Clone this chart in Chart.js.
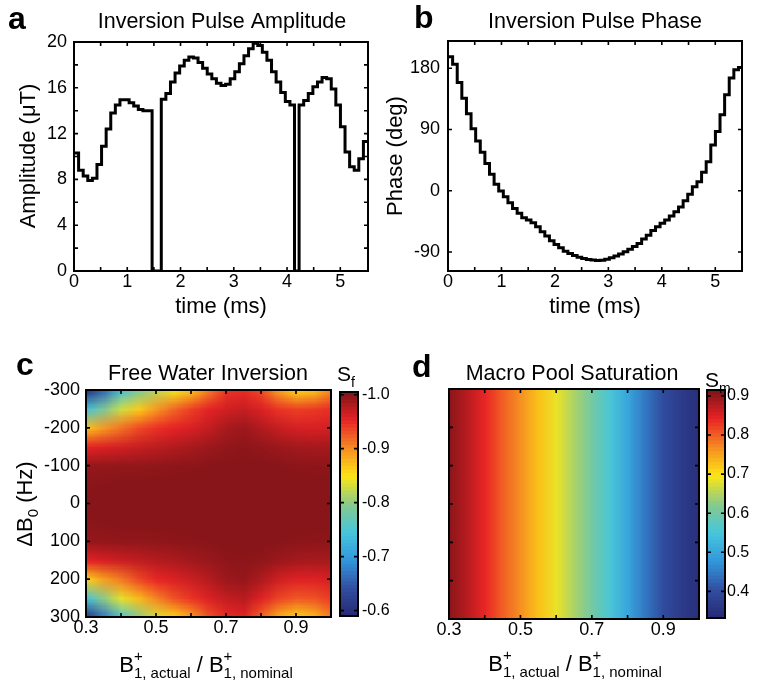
<!DOCTYPE html>
<html>
<head>
<meta charset="utf-8">
<title>Inversion pulse</title>
<script src="https://cdn.jsdelivr.net/npm/chart.js@4.4.0/dist/chart.umd.min.js"></script>
<style>
  body { margin: 0; background: #fff; }
  #fig { position: relative; width: 757px; height: 683px; background: #fff; }
  #fig canvas { position: absolute; left: 0; top: 0; }
</style>
</head>
<body>
<div id="fig">
  <canvas id="amp" width="757" height="683"></canvas>
  <canvas id="phase" width="757" height="683"></canvas>
  <canvas id="water" width="757" height="683"></canvas>
  <canvas id="waterBar" width="757" height="683"></canvas>
  <canvas id="macro" width="757" height="683"></canvas>
  <canvas id="macroBar" width="757" height="683"></canvas>
</div>
<script>
// ---- pulse samples (64 steps) ----
const pulseDuration = 5.52; // ms
const amplitude = [
  10.3, 8.8, 8.3, 7.9, 8.1, 9.3, 10.9, 12.4, 13.8, 14.5, 14.95, 14.95, 14.7, 14.4, 14.1, 14.0,
  14.0, 0, 0, 15.0, 15.5, 16.5, 17.3, 17.9, 18.4, 18.7, 18.6, 18.2, 17.7, 17.2, 16.8, 16.4,
  16.2, 16.3, 16.8, 17.4, 18.1, 18.8, 19.4, 19.9, 19.7, 19.1, 18.4, 17.4, 16.5, 15.6, 14.8, 14.5,
  0, 14.5, 14.9, 15.5, 16.1, 16.5, 16.9, 16.8, 15.9, 14.5, 12.6, 10.4, 9.1, 8.8, 9.8, 11.3
];
const phase = [
  197, 186, 159, 136, 113, 91, 73, 56.5, 40, 24, 9.4, -0.4, -8.8, -17.7, -26, -33.3,
  -39.7, -43.2, -47.1, -53, -60.4, -66.7, -73.6, -79, -84, -88.8, -92.3, -95.2, -97.7, -99.7, -101.1, -102,
  -102.6, -102.3, -100.6, -98.6, -96, -93, -89.8, -86, -82, -77.5, -71, -65.3, -58.5, -53, -48, -43.2,
  -37, -31, -24, -14.7, -5.3, 5.9, 13, 27, 42.7, 67.3, 87, 111.5, 141, 165.6, 177.8, 181.2
];

// ---- simulation maps ----
const b1Ratio = [0.30, 0.35, 0.40, 0.45, 0.50, 0.55, 0.60, 0.65, 0.70, 0.75, 0.80, 0.85, 0.90, 0.95, 1.00];
const offResonance = [-300, -250, -200, -150, -100, -50, 0, 50, 100, 150, 200, 250, 300];
// free water longitudinal signal, one row per off-resonance value
const freeWater = [
  [-0.600, -0.660, -0.740, -0.790, -0.820, -0.845, -0.870, -0.910, -0.945, -0.950, -0.935, -0.890, -0.860, -0.870, -0.905],
  [-0.740, -0.790, -0.830, -0.865, -0.895, -0.920, -0.940, -0.955, -0.965, -0.970, -0.960, -0.945, -0.940, -0.943, -0.948],
  [-0.870, -0.895, -0.915, -0.935, -0.947, -0.955, -0.962, -0.972, -0.985, -0.990, -0.980, -0.970, -0.963, -0.962, -0.965],
  [-0.955, -0.960, -0.965, -0.970, -0.975, -0.980, -0.985, -0.990, -0.995, -0.997, -0.995, -0.990, -0.987, -0.986, -0.986],
  [-0.993, -0.994, -0.995, -0.995, -0.996, -0.997, -0.998, -0.999, -1.000, -1.000, -1.000, -0.999, -0.998, -0.997, -0.997],
  [-0.998, -0.999, -1.000, -1.000, -1.000, -1.000, -1.000, -1.000, -1.000, -1.000, -1.000, -1.000, -1.000, -1.000, -1.000],
  [-1.000, -1.000, -1.000, -1.000, -1.000, -1.000, -1.000, -1.000, -1.000, -1.000, -1.000, -1.000, -1.000, -1.000, -1.000],
  [-0.998, -0.999, -1.000, -1.000, -1.000, -1.000, -1.000, -1.000, -1.000, -1.000, -1.000, -1.000, -1.000, -1.000, -1.000],
  [-0.993, -0.994, -0.995, -0.995, -0.996, -0.997, -0.998, -0.999, -1.000, -1.000, -1.000, -0.999, -0.998, -0.997, -0.997],
  [-0.955, -0.962, -0.968, -0.973, -0.978, -0.982, -0.987, -0.992, -0.997, -0.998, -0.996, -0.990, -0.986, -0.985, -0.985],
  [-0.860, -0.890, -0.910, -0.935, -0.952, -0.960, -0.968, -0.978, -0.990, -0.993, -0.982, -0.965, -0.958, -0.958, -0.962],
  [-0.740, -0.800, -0.840, -0.875, -0.905, -0.930, -0.945, -0.960, -0.972, -0.977, -0.958, -0.937, -0.927, -0.930, -0.942],
  [-0.600, -0.670, -0.745, -0.800, -0.835, -0.860, -0.890, -0.930, -0.950, -0.955, -0.920, -0.880, -0.860, -0.875, -0.910]
];
// macromolecular saturation only depends on B1
const macroSat = [0.905, 0.875, 0.84, 0.80, 0.765, 0.725, 0.685, 0.645, 0.60, 0.555, 0.50, 0.445, 0.40, 0.37, 0.345];

// ---- tick values ----
const timeTicks = [0, 0.5, 1, 1.5, 2, 2.5, 3, 3.5, 4, 4.5, 5, 5.5];
const timeLabels = [0, 1, 2, 3, 4, 5];
const ampTicks = [0, 2, 4, 6, 8, 10, 12, 14, 16, 18, 20];
const ampLabels = [0, 4, 8, 12, 16, 20];
const phaseTicks = [-90, 0, 90, 180];
const b1Ticks = [0.3, 0.4, 0.5, 0.6, 0.7, 0.8, 0.9, 1.0];
const b1Labels = [0.3, 0.5, 0.7, 0.9];
const offTicks = [-300, -200, -100, 0, 100, 200, 300];
const waterBarTicks = [-1.0, -0.9, -0.8, -0.7, -0.6];
const macroBarTicks = [0.4, 0.5, 0.6, 0.7, 0.8, 0.9];

// colour scale limits (value at bottom of colour map, value at top)
const waterRange = [-0.59, -1.005];
const macroRange = [0.332, 0.915];

// jet-like colour stops
const cmapStops = [
  [38, 40, 115], [50, 78, 160], [50, 150, 220], [70, 198, 220], [135, 202, 140],
  [252, 230, 20], [246, 140, 35], [233, 35, 38], [125, 20, 24]
];

const W = 757, H = 683;
const FAMILY = "'Liberation Sans', Arial, Helvetica, sans-serif";
Chart.defaults.font.family = FAMILY;
Chart.defaults.color = '#000';

function cmap(f) {
  f = Math.min(1, Math.max(0, f)) * (cmapStops.length - 1);
  const i = Math.min(Math.floor(f), cmapStops.length - 2), t = f - i;
  return cmapStops[i].map((c, k) => Math.round(c + (cmapStops[i + 1][k] - c) * t));
}

// fixed plot boxes so the four panels line up
function place(area, yW, xH, yRight) {
  return {
    padding: {
      left: yRight ? area.left : area.left - yW,
      top: area.top,
      right: W - area.right - (yRight ? yW : 0),
      bottom: H - area.bottom - xH
    }
  };
}

function axis(min, max, ticks, labelled, fmt, opts) {
  opts = opts || {};
  return {
    type: 'linear', min, max,
    display: opts.display !== undefined ? opts.display : true,
    position: opts.position,
    reverse: !!opts.reverse,
    afterBuildTicks: s => { s.ticks = ticks.map(v => ({ value: v })); },
    afterFit: s => { if (s.isHorizontal()) s.height = 40; else s.width = opts.width || 60; },
    ticks: {
      autoSkip: false, maxRotation: 0, color: '#000',
      font: { size: opts.size || 18 }, padding: opts.padding || 0,
      callback: v => labelled.includes(v) ? fmt(v) : ''
    },
    grid: { display: false, drawTicks: false },
    border: { display: false }
  };
}

function stairs(values) {
  const dt = pulseDuration / values.length;
  const pts = values.map((v, i) => ({ x: i * dt, y: v }));
  pts.push({ x: values.length * dt, y: values[values.length - 1] });
  return pts;
}

// box with inward ticks on all four sides
const frame = {
  id: 'frame',
  afterDatasetsDraw(chart) {
    const { ctx, chartArea: a } = chart;
    const len = 4;
    ctx.save();
    ctx.strokeStyle = '#000';
    ctx.lineWidth = 1.6;
    ctx.beginPath();
    Object.values(chart.scales).forEach(s => {
      if (!s.options.display) return;
      s.ticks.forEach(t => {
        const p = s.getPixelForValue(t.value);
        if (s.isHorizontal()) {
          if (p < a.left + 2 || p > a.right - 2) return;
          ctx.moveTo(p, a.bottom); ctx.lineTo(p, a.bottom - len);
          ctx.moveTo(p, a.top); ctx.lineTo(p, a.top + len);
        } else {
          if (p < a.top + 2 || p > a.bottom - 2) return;
          ctx.moveTo(a.left, p); ctx.lineTo(a.left + len, p);
          ctx.moveTo(a.right, p); ctx.lineTo(a.right - len, p);
        }
      });
    });
    ctx.stroke();
    ctx.lineWidth = 2;
    ctx.strokeRect(a.left, a.top, a.right - a.left, a.bottom - a.top);
    ctx.restore();
  }
};

// smooth colour map drawn from the grid values
const heatmap = {
  id: 'heatmap',
  beforeDatasetsDraw(chart, args, o) {
    const { ctx, chartArea: a, scales: { x, y } } = chart;
    const cols = o.x.length, rows = o.y.length;
    const off = document.createElement('canvas');
    off.width = cols; off.height = rows;
    const octx = off.getContext('2d');
    const img = octx.createImageData(cols, rows);
    o.z.forEach((row, r) => row.forEach((v, c) => {
      const rgb = cmap((v - o.range[0]) / (o.range[1] - o.range[0]));
      const k = 4 * (r * cols + c);
      img.data[k] = rgb[0]; img.data[k + 1] = rgb[1]; img.data[k + 2] = rgb[2]; img.data[k + 3] = 255;
    }));
    octx.putImageData(img, 0, 0);
    const x0 = x.getPixelForValue(o.x[0]), x1 = x.getPixelForValue(o.x[cols - 1]);
    const y0 = y.getPixelForValue(o.y[0]), y1 = y.getPixelForValue(o.y[rows - 1]);
    const hx = (x1 - x0) / (cols - 1) / 2, hy = (y1 - y0) / (rows - 1) / 2;
    ctx.save();
    ctx.beginPath();
    ctx.rect(a.left, a.top, a.right - a.left, a.bottom - a.top);
    ctx.clip();
    ctx.imageSmoothingEnabled = true;
    ctx.drawImage(off, x0 - hx, y0 - hy, x1 - x0 + 2 * hx, y1 - y0 + 2 * hy);
    ctx.restore();
  }
};

// 64-level colour bar along the y scale
const colorbar = {
  id: 'colorbar',
  beforeDatasetsDraw(chart, args, o) {
    const { ctx, chartArea: a, scales: { y } } = chart;
    const n = 64, [lo, hi] = o.range;
    for (let k = 0; k < n; k++) {
      const p0 = y.getPixelForValue(lo + (hi - lo) * k / n);
      const p1 = y.getPixelForValue(lo + (hi - lo) * (k + 1) / n);
      const c = cmap((k + 0.5) / n);
      ctx.fillStyle = `rgb(${c[0]},${c[1]},${c[2]})`;
      ctx.fillRect(a.left, Math.min(p0, p1) - 0.5, a.right - a.left, Math.abs(p1 - p0) + 1);
    }
  }
};

// text with sub/superscripts
function drawRich(ctx, c) {
  const main = c.size, small = Math.round(c.size * 0.68);
  const font = sz => `${c.bold ? 'bold ' : ''}${sz}px ${FAMILY}`;
  const parts = c.segs.map(s => {
    if (typeof s === 'string') { ctx.font = font(main); return { s, w: ctx.measureText(s).width }; }
    ctx.font = font(small);
    return { s, w: Math.max(s.sub ? ctx.measureText(s.sub).width : 0, s.sup ? ctx.measureText(s.sup).width : 0) };
  });
  const total = parts.reduce((t, p) => t + p.w, 0);
  ctx.save();
  ctx.translate(c.x, c.y);
  if (c.rotate) ctx.rotate(-Math.PI / 2);
  ctx.fillStyle = '#000';
  ctx.textAlign = 'left';
  ctx.textBaseline = 'alphabetic';
  let x = c.align === 'left' ? 0 : -total / 2;
  parts.forEach(p => {
    if (typeof p.s === 'string') {
      ctx.font = font(main);
      ctx.fillText(p.s, x, 0);
    } else {
      ctx.font = font(small);
      if (p.s.sub) ctx.fillText(p.s.sub, x, main * 0.27);
      if (p.s.sup) ctx.fillText(p.s.sup, x, -main * 0.5);
    }
    x += p.w;
  });
  ctx.restore();
}

const captions = {
  id: 'captions',
  afterDraw(chart, args, o) {
    (o.items || []).forEach(c => drawRich(chart.ctx, c));
  }
};

const b1Label = ['B', { sub: '1, actual', sup: '+' }, ' / B', { sub: '1, nominal', sup: '+' }];
const fmt1 = v => v.toFixed(1);
const fmtInt = v => String(v);
const noLabel = () => '';

const base = { responsive: false, animation: false, events: [] };
const quiet = { legend: { display: false }, tooltip: { enabled: false } };

const areaA = { left: 74, top: 42, right: 368, bottom: 271 };
const areaB = { left: 448, top: 41, right: 742, bottom: 271 };
const areaC = { left: 86, top: 390, right: 331, bottom: 617 };
const areaD = { left: 449, top: 389, right: 699, bottom: 619 };
const areaCb = { left: 340, top: 392, right: 358, bottom: 616 };
const areaDb = { left: 707, top: 390, right: 725, bottom: 618 };

const pulseLine = {
  stepped: 'before', borderColor: '#000', borderWidth: 3, pointRadius: 0, fill: false,
  borderJoinStyle: 'miter', borderCapStyle: 'butt'
};

function opts(area, scales, items, extra) {
  return Object.assign({}, base, {
    layout: place(area, 60, 40),
    scales,
    plugins: Object.assign({}, quiet, { captions: { items } }, extra || {})
  });
}

// a: amplitude
new Chart(document.getElementById('amp'), {
  type: 'line',
  data: { datasets: [Object.assign({ data: stairs(amplitude) }, pulseLine)] },
  options: opts(areaA, {
    x: axis(0, pulseDuration, timeTicks, timeLabels, fmtInt),
    y: axis(0, 20, ampTicks, ampLabels, fmtInt, { padding: 7 })
  }, [
    { segs: ['a'], x: 8, y: 29, size: 32, bold: true, align: 'left' },
    { segs: ['Inversion Pulse Amplitude'], x: 222, y: 28, size: 21.5 },
    { segs: ['time (ms)'], x: 221, y: 313, size: 22 },
    { segs: ['Amplitude (μT)'], x: 35, y: 156, size: 22, rotate: true }
  ]),
  plugins: [frame, captions]
});

// b: phase
new Chart(document.getElementById('phase'), {
  type: 'line',
  data: { datasets: [Object.assign({ data: stairs(phase) }, pulseLine)] },
  options: opts(areaB, {
    x: axis(0, 5.5, timeTicks, timeLabels, fmtInt),
    y: axis(-118, 220, phaseTicks, phaseTicks, fmtInt, { padding: 8 })
  }, [
    { segs: ['b'], x: 414, y: 28, size: 32, bold: true, align: 'left' },
    { segs: ['Inversion Pulse Phase'], x: 595, y: 28, size: 21.5 },
    { segs: ['time (ms)'], x: 595, y: 313, size: 22 },
    { segs: ['Phase (deg)'], x: 402, y: 156, size: 22, rotate: true }
  ]),
  plugins: [frame, captions]
});

// c: free water inversion map
new Chart(document.getElementById('water'), {
  type: 'scatter',
  data: { datasets: [{ data: [], pointRadius: 0 }] },
  options: opts(areaC, {
    x: axis(0.3, 1.0, b1Ticks, b1Labels, fmt1),
    y: axis(-300, 300, offTicks, offTicks, fmtInt, { reverse: true, padding: 6 })
  }, [
    { segs: ['c'], x: 16, y: 375, size: 32, bold: true, align: 'left' },
    { segs: ['Free Water Inversion'], x: 208, y: 380, size: 21.5 },
    { segs: b1Label, x: 206, y: 672, size: 22 },
    { segs: ['ΔB', { sub: '0' }, ' (Hz)'], x: 32, y: 504, size: 22, rotate: true }
  ], { heatmap: { x: b1Ratio, y: offResonance, z: freeWater, range: waterRange } }),
  plugins: [heatmap, frame, captions]
});

new Chart(document.getElementById('waterBar'), {
  type: 'scatter',
  data: { datasets: [{ data: [], pointRadius: 0 }] },
  options: Object.assign({}, base, {
    layout: place(areaCb, 44, 0, true),
    scales: {
      x: { type: 'linear', min: 0, max: 1, display: false },
      y: axis(-1.005, -0.59, waterBarTicks, waterBarTicks, fmt1, { position: 'right', reverse: true, width: 44, size: 16, padding: 4 })
    },
    plugins: Object.assign({}, quiet, {
      colorbar: { range: waterRange },
      captions: { items: [{ segs: ['S', { sub: 'f' }], x: 337, y: 381, size: 21, align: 'left' }] }
    })
  }),
  plugins: [colorbar, frame, captions]
});

// d: macromolecular pool saturation map
new Chart(document.getElementById('macro'), {
  type: 'scatter',
  data: { datasets: [{ data: [], pointRadius: 0 }] },
  options: opts(areaD, {
    x: axis(0.3, 1.0, b1Ticks, b1Labels, fmt1),
    y: axis(-300, 300, offTicks, [], noLabel, { reverse: true })
  }, [
    { segs: ['d'], x: 412, y: 377, size: 32, bold: true, align: 'left' },
    { segs: ['Macro Pool Saturation'], x: 572, y: 380, size: 21.5 },
    { segs: b1Label, x: 575, y: 671, size: 22 }
  ], { heatmap: { x: b1Ratio, y: [-300, 300], z: [macroSat, macroSat], range: macroRange } }),
  plugins: [heatmap, frame, captions]
});

new Chart(document.getElementById('macroBar'), {
  type: 'scatter',
  data: { datasets: [{ data: [], pointRadius: 0 }] },
  options: Object.assign({}, base, {
    layout: place(areaDb, 30, 0, true),
    scales: {
      x: { type: 'linear', min: 0, max: 1, display: false },
      y: axis(0.332, 0.915, macroBarTicks, macroBarTicks, fmt1, { position: 'right', width: 30, size: 16, padding: 2 })
    },
    plugins: Object.assign({}, quiet, {
      colorbar: { range: macroRange },
      captions: { items: [{ segs: ['S', { sub: 'm' }], x: 705, y: 387, size: 21, align: 'left' }] }
    })
  }),
  plugins: [colorbar, frame, captions]
});
</script>
</body>
</html>
